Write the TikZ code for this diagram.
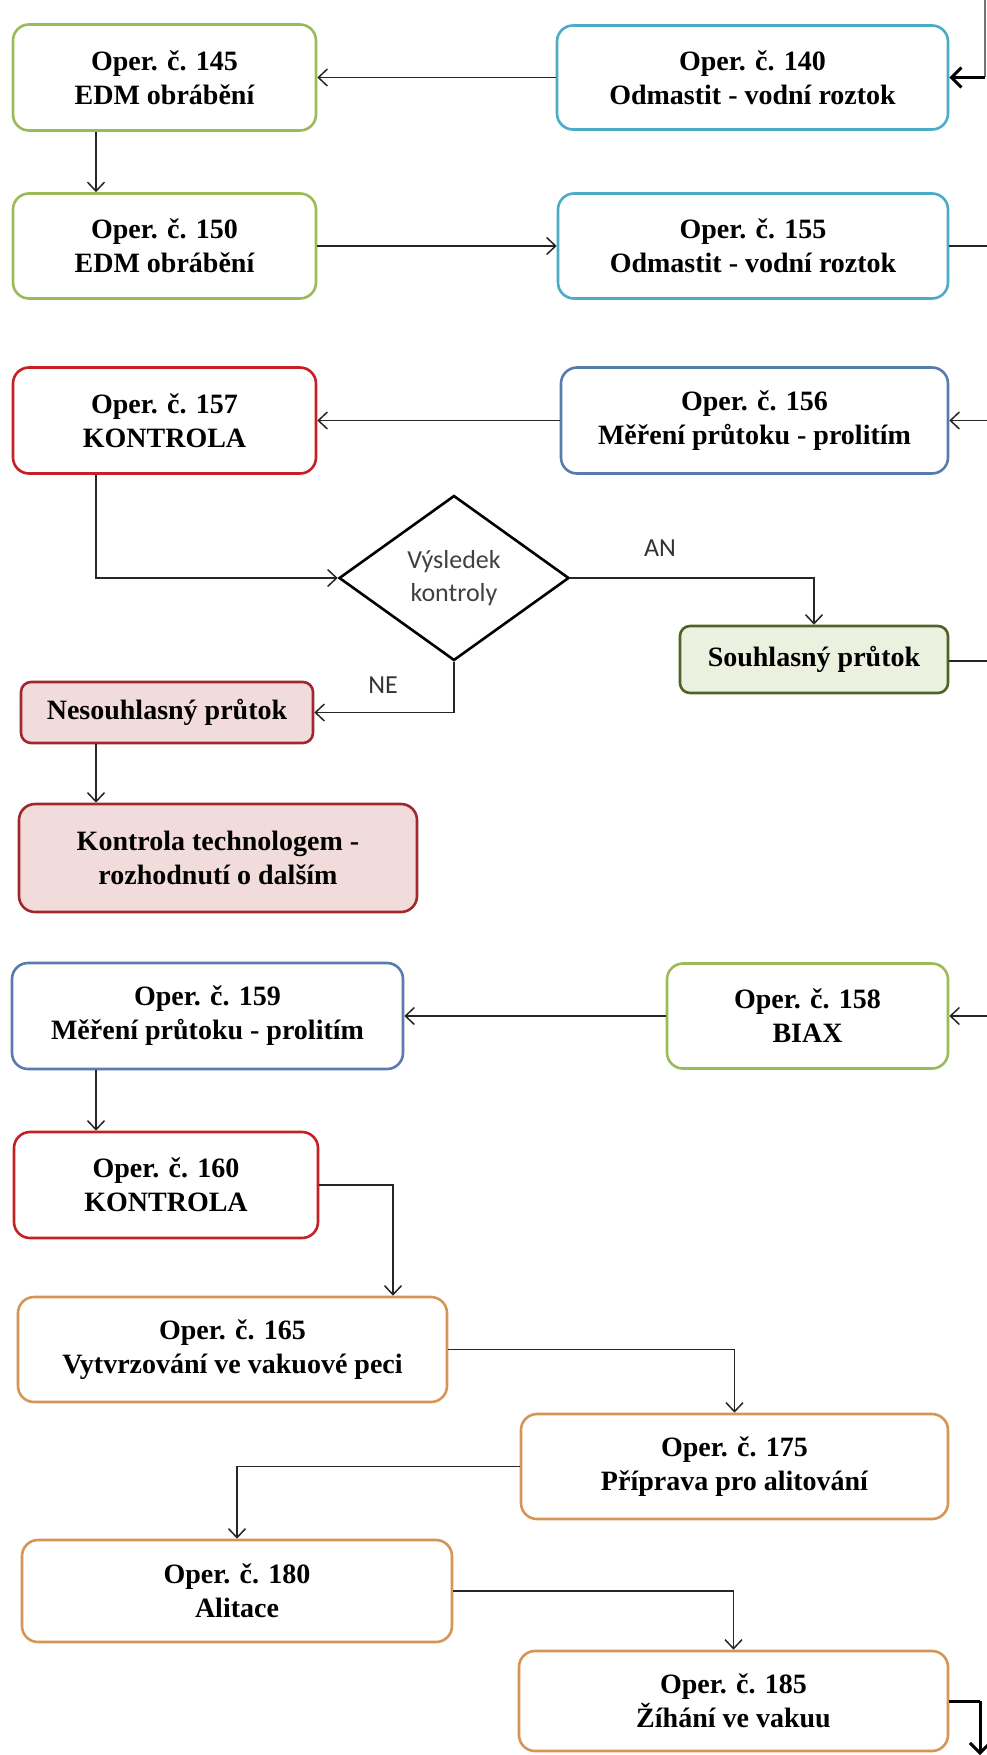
\documentclass[tikz,border=0pt]{standalone}
\usepackage{fontspec}
\setmainfont{Liberation Serif}
\newfontfamily\labelfont{Carlito}
\usetikzlibrary{arrows.meta,shapes.geometric}

% border and fill colours of the operation boxes
\definecolor{cOlive}{HTML}{9BBB59}
\definecolor{cAqua}{HTML}{4BACC6}
\definecolor{cSteel}{HTML}{587BAE}
\definecolor{cRed}{HTML}{C42026}
\definecolor{cDarkRed}{HTML}{A0282D}
\definecolor{cPink}{HTML}{F2DCDB}
\definecolor{cMoss}{HTML}{4F6228}
\definecolor{cMint}{HTML}{EBF1DE}
\definecolor{cTan}{HTML}{D59555}

\begin{document}
\begin{tikzpicture}[x=1pt,y=-1pt,
  box/.style={draw, rounded corners=16pt, line width=2.6pt, fill=white,
    align=center, inner sep=0pt, text=black,
    font=\fontsize{28}{34}\selectfont\bfseries},
  decision/.style={draw=black, diamond, line width=2.6pt, fill=white,
    minimum width=230pt, minimum height=165pt, inner sep=0pt, align=center,
    text=black!75, font=\labelfont\fontsize{26}{33}\selectfont},
  lbl/.style={inner sep=0pt, text=black!80, font=\labelfont\fontsize{26}{33}\selectfont},
  link/.style={draw=black!85, line width=1.5pt},
  arr/.style={link, -{Straight Barb[length=9pt,width=17pt]}},
  heavy/.style={draw=black, line width=3pt},
  heavyarr/.style={heavy, -{Straight Barb[length=10pt,width=20pt]}},
 ]
\useasboundingbox (0,0) rectangle (987,1755);

% ---- operations 140 -- 155
\node[box, draw=cOlive, minimum width=303pt, minimum height=106pt] (n145) at (164.5,77.5) {Oper. č. 145\\EDM obrábění};
\node[box, draw=cAqua,  minimum width=391pt, minimum height=104pt] (n140) at (752.5,77.5) {Oper. č. 140\\Odmastit - vodní roztok};
\node[box, draw=cOlive, minimum width=303pt, minimum height=105pt] (n150) at (164.5,246) {Oper. č. 150\\EDM obrábění};
\node[box, draw=cAqua,  minimum width=390pt, minimum height=105pt] (n155) at (753,246) {Oper. č. 155\\Odmastit - vodní roztok};

% ---- operations 156, 157 and the check
\node[box, draw=cRed,   minimum width=303pt, minimum height=106pt] (n157) at (164.5,420.5) {Oper. č. 157\\KONTROLA};
\node[box, draw=cSteel, minimum width=387pt, minimum height=106pt] (n156) at (754.5,420.5) {Oper. č. 156\\Měření průtoku - prolitím};
\node[decision] (dec) at (454,578) {Výsledek\\kontroly};
\node[lbl] (an) at (660,548) {AN};
\node[lbl] (ne) at (383,685) {NE};
\node[box, draw=cMoss, fill=cMint, rounded corners=10pt, minimum width=268pt, minimum height=67pt] (ok) at (814,659.5) {Souhlasný průtok};
\node[box, draw=cDarkRed, fill=cPink, rounded corners=10pt, minimum width=292pt, minimum height=61pt] (nok) at (167,712.5) {Nesouhlasný průtok};
\node[box, draw=cDarkRed, fill=cPink, minimum width=398pt, minimum height=108pt] (tech) at (218,858) {Kontrola technologem -\\rozhodnutí o dalším};

% ---- operations 158 -- 185
\node[box, draw=cSteel, minimum width=391pt, minimum height=106pt] (n159) at (207.5,1016) {Oper. č. 159\\Měření průtoku - prolitím};
\node[box, draw=cOlive, minimum width=281pt, minimum height=105pt] (n158) at (807.5,1016) {Oper. č. 158\\BIAX};
\node[box, draw=cRed,   minimum width=304pt, minimum height=106pt] (n160) at (166,1185) {Oper. č. 160\\KONTROLA};
\node[box, draw=cTan,   minimum width=429pt, minimum height=105pt] (n165) at (232.5,1349.5) {Oper. č. 165\\Vytvrzování ve vakuové peci};
\node[box, draw=cTan,   minimum width=427pt, minimum height=105pt] (n175) at (734.5,1466.5) {Oper. č. 175\\Příprava pro alitování};
\node[box, draw=cTan,   minimum width=430pt, minimum height=102pt] (n180) at (237,1591) {Oper. č. 180\\Alitace};
\node[box, draw=cTan,   minimum width=429pt, minimum height=100pt] (n185) at (733.5,1701) {Oper. č. 185\\Žíhání ve vakuu};

% ---- helper points: left column line and links leaving the sheet
\coordinate (colL) at (96,0);
\coordinate (col160) at (393,0);
\coordinate (inTop) at (985,0);
\coordinate (inTurn) at (985,77.5);
\coordinate (e155) at (987,246);
\coordinate (e156) at (987,420.5);
\coordinate (eOk) at (987,661);
\coordinate (e158) at (987,1016);
\coordinate (outTurn) at (980,1701);
\coordinate (outEnd) at (980,1755);

% ---- connectors
\draw[draw=black!55, line width=1.5pt] (inTop) -- (inTurn);
\draw[heavyarr] (inTurn) -- (n140.east);
\draw[arr] (n140.west) -- (n145.east);
\draw[arr] (n145.south -| colL) -- (n150.north -| colL);
\draw[arr] (n150.east) -- (n155.west);
\draw[link] (n155.east) -- (e155);

\draw[arr] (e156) -- (n156.east);
\draw[arr] (n156.west) -- (n157.east);
\draw[arr] (n157.south -| colL) |- (dec.west);
\draw[arr] (dec.east) -| (ok.north);
\draw[link] (ok.east |- eOk) -- (eOk);
\draw[arr] (dec.south) |- (nok.east);
\draw[arr] (nok.south -| colL) -- (tech.north -| colL);

\draw[arr] (e158) -- (n158.east);
\draw[arr] (n158.west) -- (n159.east);
\draw[arr] (n159.south -| colL) -- (n160.north -| colL);
\draw[arr] (n160.east) -| (n165.north -| col160);
\draw[arr] (n165.east) -| (n175.north);
\draw[arr] (n175.west) -| (n180.north);
\draw[arr] (n180.east) -| (n185.north);
\draw[heavy] (n185.east) -- (outTurn);
\draw[heavyarr] (outTurn) -- (outEnd);
\end{tikzpicture}
\end{document}
